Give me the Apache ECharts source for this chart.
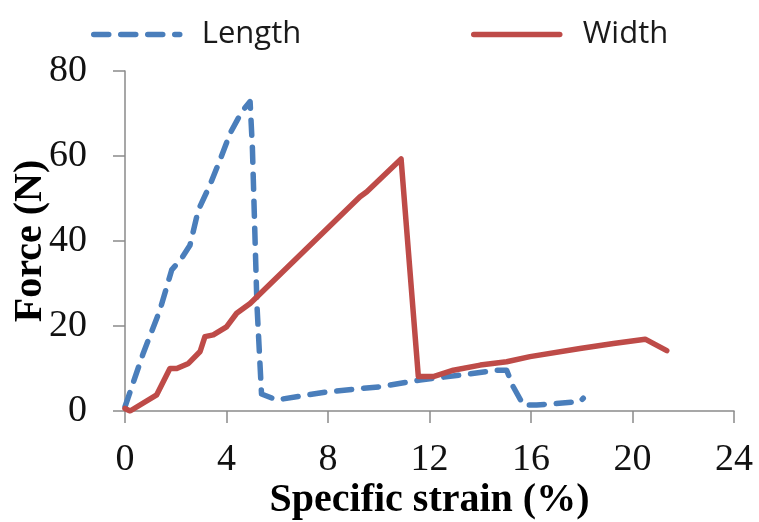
<!DOCTYPE html>
<html>
<head>
<meta charset="utf-8">
<script src="https://cdn.jsdelivr.net/npm/echarts@6/dist/echarts.min.js"></script>
<style>
html, body { margin: 0; padding: 0; background: #fff; }
#main { width: 759px; height: 522px; }
</style>
</head>
<body>
<div id="main"></div>
<script>
// Length direction
var lengthStrain = [0, 0.72, 1.38, 1.84, 2.23, 2.56, 2.89, 3.35, 3.74, 4.14, 4.6, 4.93, 5.02, 5.2, 5.38, 5.98, 7.95, 10.05, 11.63, 13.3, 14.65, 15.04, 15.3, 15.7, 16.22, 17.93, 18.06];
var lengthForce  = [1.0, 13.6, 23.8, 33.2, 35.9, 39, 47.3, 53.2, 59, 65.3, 70.4, 72.8, 62, 25, 4, 2.6, 4.5, 5.7, 7.3, 8.5, 9.6, 9.6, 5.7, 1.4, 1.4, 2.2, 3.0];
// Width direction
var widthStrain = [0, 0.2, 1.25, 1.77, 2.04, 2.5, 2.96, 3.15, 3.48, 4.0, 4.4, 4.93, 9.26, 9.53, 10.88, 11.56, 12.15, 12.94, 14.0, 15.04, 15.96, 17.93, 19.25, 20.5, 21.35];
var widthForce  = [0.6, 0, 3.8, 10, 10, 11.2, 14, 17.5, 17.9, 19.8, 23, 25.3, 50.4, 51.6, 59.3, 8.1, 8.1, 9.6, 10.8, 11.6, 12.8, 14.7, 15.9, 16.9, 14.2];

function pairs(xs, ys) {
	var out = [];
	for (var i = 0; i < xs.length; i++) {
		out.push([xs[i], ys[i]]);
	}
	return out;
}

var dom = document.getElementById("main");
var myChart = echarts.init(dom);
var serif = '"Liberation Serif", "Times New Roman", serif';
var axisColor = '#8a8a8a';
var blue = '#4a7ebb';
var red = '#be4b48';

function legendText(pad) {
	return {
		fontFamily: '"Open Sans", sans-serif',
		fontSize: 31,
		color: '#1a1a1a',
		padding: [0, 0, 0, pad]
	};
}

option = {
	animation: false,
	legend: [
		{
			data: ['Length'],
			left: 86,
			top: 14,
			itemWidth: 86,
			itemHeight: 14,
			itemStyle: { opacity: 0 },
			lineStyle: { color: blue, width: 5.5, type: [15, 12], cap: 'round' },
			textStyle: legendText(17)
		},
		{
			data: ['Width'],
			left: 466,
			top: 14,
			itemWidth: 86,
			itemHeight: 14,
			itemStyle: { opacity: 0 },
			lineStyle: { color: red, width: 5.5, cap: 'round' },
			textStyle: legendText(18)
		}
	],
	grid: {
		left: 125,
		right: 25,
		top: 71,
		bottom: 111,
		outerBoundsMode: 'none'
	},
	xAxis: {
		type: 'value',
		min: 0,
		max: 24,
		interval: 4,
		name: 'Specific strain (%)',
		nameLocation: 'middle',
		nameGap: 70,
		nameMoveOverlap: false,
		nameTextStyle: {
			fontFamily: serif,
			fontSize: 40,
			fontWeight: 'bold',
			color: '#000'
		},
		axisLine: { lineStyle: { color: axisColor, width: 1.5 } },
		axisTick: { show: true, length: 12, lineStyle: { color: axisColor, width: 1.5 } },
		axisLabel: {
			margin: 30,
			fontFamily: serif,
			fontSize: 38,
			color: '#111'
		},
		splitLine: { show: false }
	},
	yAxis: {
		type: 'value',
		min: 0,
		max: 80,
		interval: 20,
		name: 'Force (N)',
		nameLocation: 'middle',
		nameGap: 74,
		nameMoveOverlap: false,
		nameTextStyle: {
			fontFamily: serif,
			fontSize: 40,
			fontWeight: 'bold',
			color: '#000'
		},
		axisLine: { show: true, lineStyle: { color: axisColor, width: 1.5 } },
		axisTick: { show: true, length: 12, lineStyle: { color: axisColor, width: 1.5 } },
		axisLabel: {
			margin: 38,
			fontFamily: serif,
			fontSize: 38,
			color: '#111'
		},
		splitLine: { show: false }
	},
	series: [
		{
			name: 'Length',
			type: 'line',
			showSymbol: false,
			symbol: 'none',
			color: blue,
			lineStyle: { color: blue, width: 5.5, type: [15, 12], cap: 'round', join: 'round' },
			data: pairs(lengthStrain, lengthForce)
		},
		{
			name: 'Width',
			type: 'line',
			showSymbol: false,
			symbol: 'none',
			color: red,
			lineStyle: { color: red, width: 5.5, cap: 'round', join: 'round' },
			data: pairs(widthStrain, widthForce)
		}
	]
};

if (option && typeof option === "object") {
	myChart.setOption(option, true);
}
</script>
</body>
</html>
